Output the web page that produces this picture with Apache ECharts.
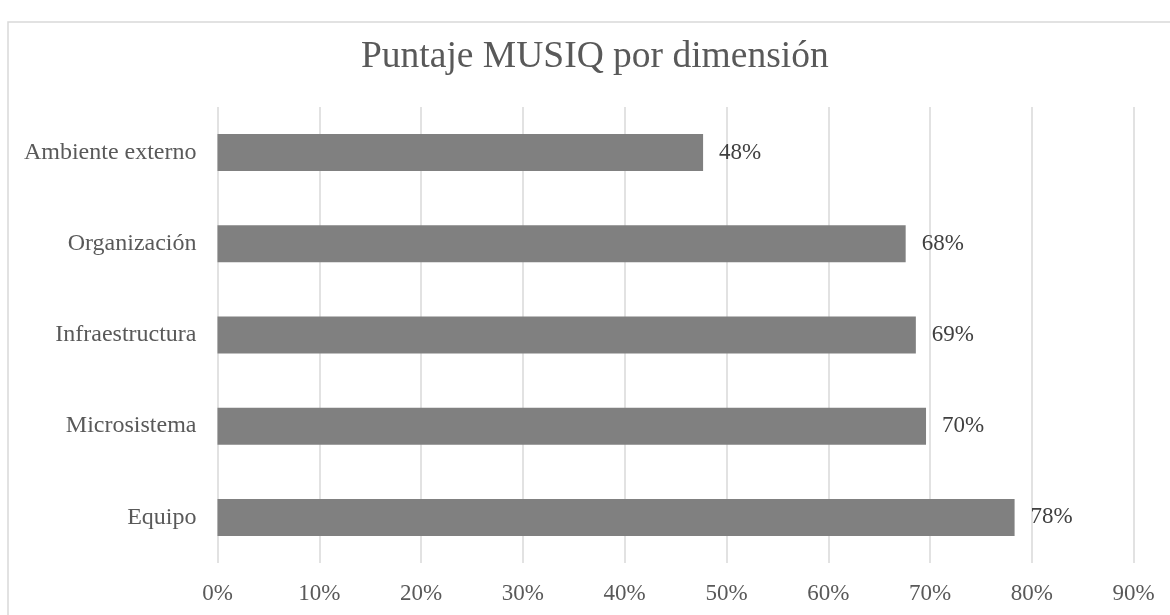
<!DOCTYPE html>
<html>
<head>
<meta charset="utf-8">
<script src="https://cdn.jsdelivr.net/npm/echarts@6/dist/echarts.min.js"></script>
<style>
  html, body { margin: 0; padding: 0; background: #fff; }
  #chart { width: 1170px; height: 615px; }
</style>
</head>
<body>
<div id="chart"></div>
<script>
const categories = ['Ambiente externo', 'Organización', 'Infraestructura', 'Microsistema', 'Equipo'];
const values = [0.477, 0.676, 0.686, 0.696, 0.783];
const xTicks = [0, 0.1, 0.2, 0.3, 0.4, 0.5, 0.6, 0.7, 0.8, 0.9];

const FONT = '"Liberation Serif", "Times New Roman", serif';
const chart = echarts.init(document.getElementById('chart'), null, { renderer: 'canvas' });
chart.setOption({
  animation: false,
  backgroundColor: '#fff',
  graphic: [{
    type: 'rect',
    shape: { x: 8, y: 22, width: 1300, height: 800 },
    style: { fill: 'none', stroke: '#d9d9d9', lineWidth: 1.5 },
    silent: true
  }],
  title: {
    text: 'Puntaje MUSIQ por dimensión',
    left: 356,
    top: 33,
    textStyle: { fontFamily: FONT, fontSize: 37.5, fontWeight: 'normal', color: '#595959' }
  },
  grid: { left: 217.5, right: 36.3, top: 107, bottom: 52, containLabel: false },
  xAxis: {
    type: 'value',
    min: xTicks[0],
    max: xTicks[xTicks.length - 1],
    interval: 0.1,
    axisLine: { show: false },
    axisTick: { show: false },
    splitLine: { show: true, lineStyle: { color: '#d9d9d9', width: 1.5 } },
    axisLabel: {
      margin: 19,
      fontFamily: FONT, fontSize: 23, color: '#595959',
      formatter: v => Math.round(v * 100) + '%'
    }
  },
  yAxis: {
    type: 'category',
    data: categories,
    inverse: true,
    axisLine: { show: false },
    axisTick: { show: false },
    axisLabel: { margin: 21, fontFamily: FONT, fontSize: 24, color: '#595959' }
  },
  series: [{
    type: 'bar',
    data: values,
    barWidth: '40.6%',
    itemStyle: { color: '#808080' },
    label: {
      show: true,
      position: 'right',
      distance: 16,
      fontFamily: FONT, fontSize: 23, color: '#404040',
      formatter: p => Math.round(p.value * 100) + '%'
    }
  }]
});
</script>
</body>
</html>
